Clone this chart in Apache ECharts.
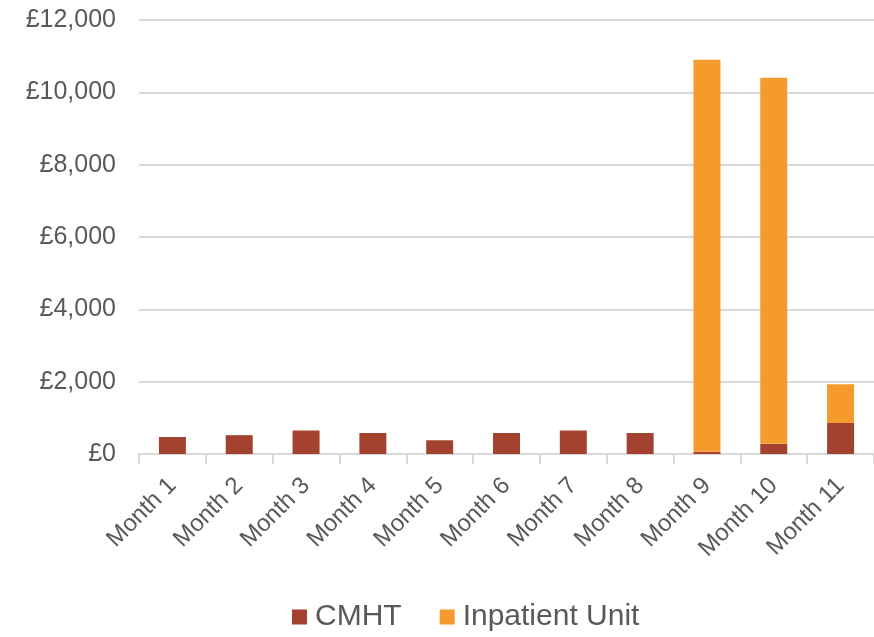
<!DOCTYPE html>
<html>
<head>
<meta charset="utf-8">
<script src="https://cdn.jsdelivr.net/npm/echarts@6/dist/echarts.min.js"></script>
<style>
  html, body { margin: 0; padding: 0; background: #ffffff; }
  #chart { width: 874px; height: 637px; }
</style>
</head>
<body>
<div id="chart"></div>
<script>
// Monthly costs split by service
const months = ['Month 1', 'Month 2', 'Month 3', 'Month 4', 'Month 5', 'Month 6',
                'Month 7', 'Month 8', 'Month 9', 'Month 10', 'Month 11'];
const cmht = [470, 520, 650, 580, 380, 580, 650, 580, 60, 280, 860];
const inpatientUnit = [0, 0, 0, 0, 0, 0, 0, 0, 10840, 10120, 1070];
const yTicks = [0, 2000, 4000, 6000, 8000, 10000, 12000];

const fontFamily = '"Liberation Sans", Arial, sans-serif';
const textColor = '#595959';

const chart = echarts.init(document.getElementById('chart'));
chart.setOption({
  animation: false,
  textStyle: { fontFamily: fontFamily },
  grid: { left: 139, top: 20, width: 742, bottom: 183, containLabel: false },
  legend: {
    top: 602,
    left: 292,
    padding: 0,
    itemWidth: 15,
    itemHeight: 15,
    itemGap: 38,
    icon: 'rect',
    textStyle: { fontSize: 30, color: textColor, fontFamily: fontFamily, padding: [0, 0, 0, 3] },
    data: ['CMHT', 'Inpatient Unit']
  },
  xAxis: {
    type: 'category',
    data: months,
    axisLine: { lineStyle: { color: '#d9d9d9', width: 2 } },
    axisTick: { show: true, length: 10, lineStyle: { color: '#d9d9d9', width: 2 } },
    axisLabel: { rotate: 45, fontSize: 24, color: textColor, margin: 28, interval: 0 }
  },
  yAxis: {
    type: 'value',
    min: yTicks[0],
    max: yTicks[yTicks.length - 1],
    interval: 2000,
    axisLine: { show: false },
    axisTick: { show: false },
    splitLine: { lineStyle: { color: '#d9d9d9', width: 2 } },
    axisLabel: {
      fontSize: 25,
      color: textColor,
      margin: 23,
      formatter: v => '£' + v.toLocaleString('en-GB')
    }
  },
  series: [
    {
      name: 'CMHT',
      type: 'bar',
      stack: 'cost',
      barWidth: 27,
      itemStyle: { color: '#A3432F' },
      data: cmht
    },
    {
      name: 'Inpatient Unit',
      type: 'bar',
      stack: 'cost',
      barWidth: 27,
      itemStyle: { color: '#F59B2D' },
      data: inpatientUnit
    }
  ]
});
</script>
</body>
</html>
